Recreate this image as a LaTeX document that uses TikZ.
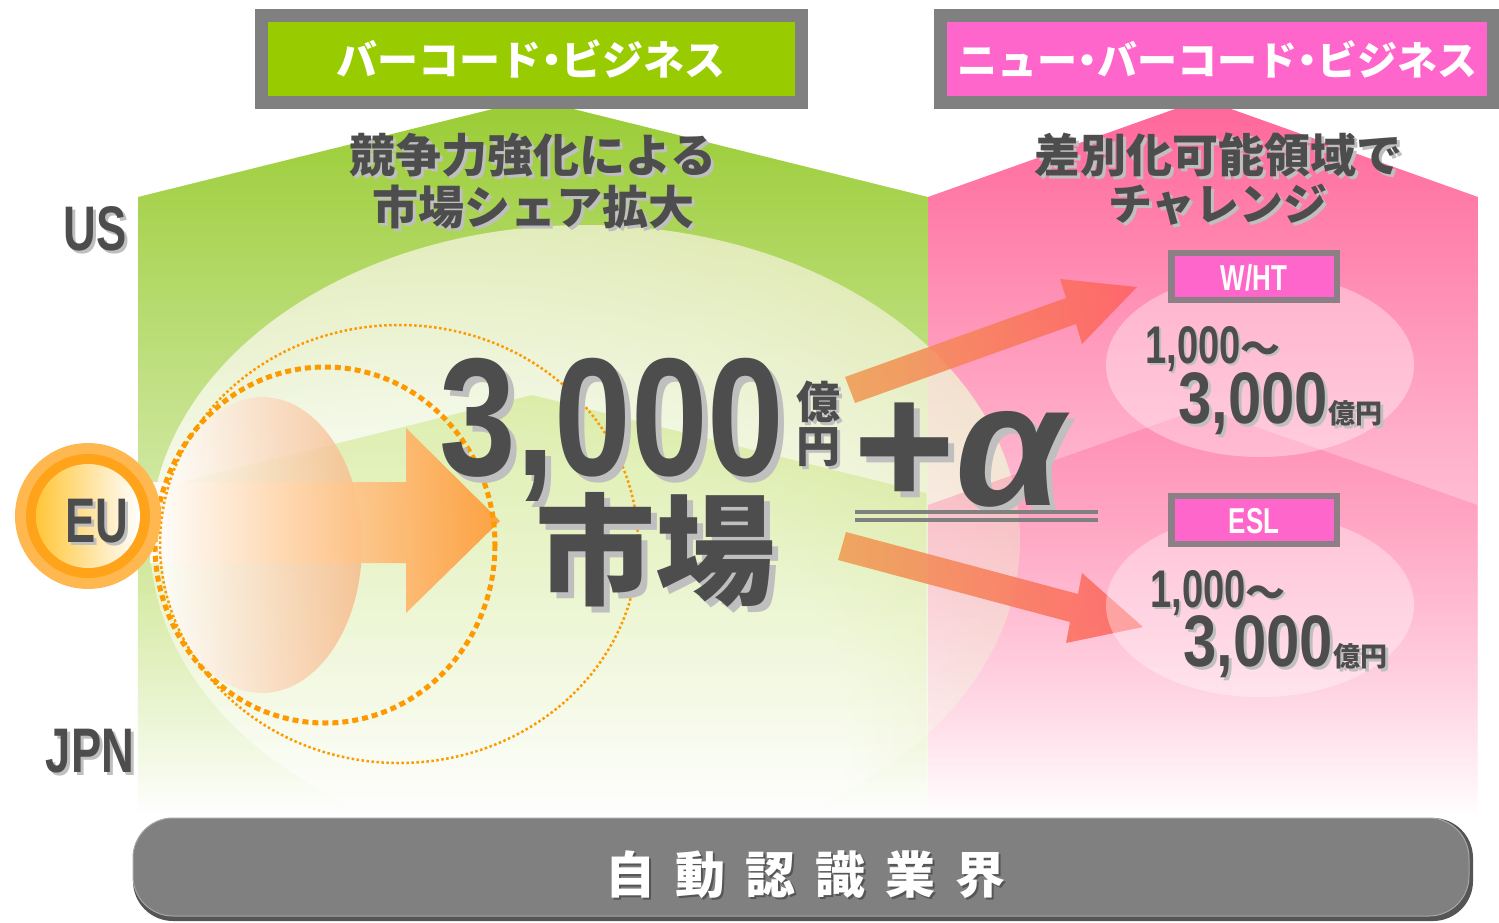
\documentclass[tikz,border=0pt]{standalone}
\usepackage{fontspec}
\usetikzlibrary{calc}
\usetikzlibrary{fadings}
\newfontfamily\jp{Noto Sans CJK JP}
\newfontfamily\cnd{Liberation Sans}[FakeStretch=0.72]
\newfontfamily\cndd{Liberation Sans}[FakeStretch=0.82]
\newfontfamily\grk{Liberation Sans}
\newcommand\latin[1]{\cnd\bfseries\fontsize{#1}{#1}\selectfont}
\newcommand\digits[1]{\cndd\bfseries\fontsize{#1}{#1}\selectfont}
\newcommand\kanji[1]{\jp\bfseries\fontsize{#1}{#1}\selectfont}
\newcommand\nakaguro{\hspace{-.25em}・\hspace{-.25em}}
\newcommand\wave{{\jp\fontsize{40}{40}\selectfont ～}}
% text with a grey drop shadow: name, options, position, text, offset
\newcommand\shadowed[5]{%
  \node[txtshadow, #2, xshift=#5pt, yshift=-#5pt] (#1s) at #3 {#4};
  \node[txt, #2] (#1) at #3 {#4};}
\definecolor{barcodegreen}{HTML}{99CC00}
\definecolor{newpink}{HTML}{FF66CC}
\definecolor{framegray}{HTML}{808080}
\definecolor{barshadow}{HTML}{555555}
\definecolor{darktxt}{HTML}{4D4D4D}
\definecolor{shadowgray}{HTML}{BFBFBF}
\definecolor{fieldgreen}{HTML}{99CC33}
\definecolor{fieldpink}{HTML}{FF6699}
\definecolor{glowyellow}{HTML}{D4D880}
\definecolor{dotorange}{HTML}{FF9900}
\definecolor{floworange}{HTML}{FF9933}
\definecolor{eggpeach}{HTML}{F7B888}
\definecolor{euring}{HTML}{FFA31A}
\definecolor{euouter}{HTML}{FFB850}
\definecolor{euinner}{HTML}{FFC638}
\definecolor{arroworange}{HTML}{F09A50}
\definecolor{arrowred}{HTML}{FF6060}
\definecolor{tagframe}{HTML}{8C7F86}
\pgfdeclareradialshading{glow}{\pgfpoint{-12bp}{-20bp}}{color(0bp)=(white); color(24bp)=(white); color(64bp)=(glowyellow); color(100bp)=(glowyellow)}

\begin{document}
\begin{tikzpicture}[x=1pt, y=-1pt,
txt/.style={text=darktxt, inner sep=0},
txtshadow/.style={text=shadowgray, inner sep=0},
headtxt/.style={text=white, inner sep=0, font=\kanji{41}},
tagtxt/.style={text=white, inner sep=0, font=\latin{36}, anchor=base},
pointer/.style={left color=arroworange, right color=arrowred, opacity=.85},
bubble/.style={fill=white, fill opacity=.35}]
\useasboundingbox (0,0) rectangle (1499,923);
\fill[white] (0,0) rectangle (1499,923);
%%%%%%%%%% FIELDS %%%%%%%%%%%
\shade[top color=fieldgreen, middle color=fieldgreen!60!white, bottom color=white]
  (138,815) -- (138,197) -- (533,99) -- (928,197) -- (928,815) -- cycle;
\shade[top color=fieldpink, middle color=fieldpink!65!white, bottom color=white]
  (928,815) -- (928,197) -- (1203,99) -- (1478,197) -- (1478,815) -- cycle;
\shade[shading=glow, opacity=.8] (585,540) ellipse (435 and 315);
\fill[fieldgreen!80!yellow, fill opacity=.3, path fading=south]
  (138,815) -- (138,493) -- (533,395) -- (928,493) -- (928,815) -- cycle;
\fill[fieldpink, fill opacity=.4, path fading=south]
  (928,815) -- (928,505) -- (1203,408) -- (1478,505) -- (1478,815) -- cycle;
%%%%%%%%%% EU FLOW %%%%%%%%%%%
\shade[left color=white, right color=eggpeach, opacity=.8] (262,545) ellipse (100 and 148);
\shade[left color=white, right color=floworange, opacity=.9]
  (150,482) -- (406,482) -- (406,428) -- (500,521) -- (406,613) -- (406,563) -- (150,563) -- cycle;
\draw[dotorange, line width=2.5, dash pattern=on 2.5pt off 2.5pt] (399,544) ellipse (239 and 219);
\draw[dotorange, line width=5, dash pattern=on 6pt off 4pt] (325,545) ellipse (170 and 178);
\fill[euouter] (88,516) circle (73);
\fill[euring] (88,516) circle (62);
\shade[left color=euinner, right color=white] (88,516) circle (52);
%%%%%%%%%% LABELS %%%%%%%%%%%
\shadowed{us}{anchor=base, font=\latin{63}}{(95,250)}{US}{3}
\shadowed{eu}{anchor=base, font=\latin{63}}{(97,542)}{EU}{3}
\shadowed{jpn}{anchor=base, font=\latin{63}}{(90,772)}{JPN}{3}
\shadowed{shareA}{font=\kanji{46}}{(533,155)}{競争力強化による}{3}
\shadowed{shareB}{font=\kanji{46}}{(533,207)}{市場シェア拡大}{3}
\shadowed{chalA}{font=\kanji{46}}{(1218,155)}{差別化可能領域で}{3}
\shadowed{chalB}{font=\kanji{44}}{(1218,205)}{チャレンジ}{3}
\shadowed{market}{anchor=base, font=\digits{168}}{(612,475)}{3,000}{6}
\shadowed{oku}{font=\kanji{44}}{(818,402)}{億}{3}
\shadowed{en}{font=\kanji{44}}{(818,447)}{円}{3}
\shadowed{ichiba}{font=\kanji{120}}{(655,550)}{市場}{6}
\shadowed{alpha}{anchor=base, font={\grk\bfseries\fontsize{175}{175}\selectfont}}{(962,505)}{+\textit{α}}{6}
\draw[framegray, line width=4] (855,512) -- (1098,512);
\draw[framegray, line width=4] (855,520) -- (1098,520);
%%%%%%%%%% NEW BUSINESS %%%%%%%%%%%
\path[pointer] (845,377) -- (1066,298) -- (1060,279) -- (1137,287) -- (1082,344) -- (1076,324) -- (855,403) -- cycle;
\path[pointer] (846,532) -- (1078,594) -- (1082,573) -- (1143,627) -- (1066,643) -- (1070,622) -- (838,560) -- cycle;
\fill[bubble] (1260,365) ellipse (154 and 92);
\fill[bubble] (1260,605) ellipse (154 and 92);
\fill[tagframe] (1168,250) rectangle (1340,303);
\fill[newpink] (1175,256) rectangle (1334,297);
\node[tagtxt] (wht) at (1254,290) {W/HT};
\fill[tagframe] (1168,493) rectangle (1340,547);
\fill[newpink] (1175,499) rectangle (1334,541);
\node[tagtxt] (esl) at (1254,533) {ESL};
\shadowed{whtlow}{anchor=base west, font=\latin{53}}{(1145,363)}{1,000\wave}{2}
\shadowed{whthigh}{anchor=base west, font=\digits{73}}{(1178,423)}{3,000{\kanji{27}億円}}{3}
\shadowed{esllow}{anchor=base west, font=\latin{53}}{(1150,607)}{1,000\wave}{2}
\shadowed{eslhigh}{anchor=base west, font=\digits{73}}{(1183,666)}{3,000{\kanji{27}億円}}{3}
%%%%%%%%%% HEADERS %%%%%%%%%%%
\fill[framegray] (255,9) rectangle (808,109);
\fill[barcodegreen] (268,22) rectangle (795,96);
\node[headtxt] (barcode) at (531,59) {バーコード\nakaguro ビジネス};
\fill[framegray] (934,9) rectangle (1499,109);
\fill[newpink] (947,22) rectangle (1487,96);
\node[headtxt, font=\kanji{40}] (newbarcode) at (1217,59) {ニュー\nakaguro バーコード\nakaguro ビジネス};
%%%%%%%%%% INDUSTRY BAR %%%%%%%%%%%
\fill[barshadow, rounded corners=40] (133,818) rectangle (1473,921);
\fill[framegray, draw=framegray!70!white, line width=1, rounded corners=40] (133,818) rectangle (1469,916);
\node[text=barshadow, inner sep=0, font=\kanji{50}, xshift=2pt, yshift=-2pt] (industrys) at (805,875)
  {自\hspace{20pt}動\hspace{20pt}認\hspace{20pt}識\hspace{20pt}業\hspace{20pt}界};
\node[text=white, inner sep=0, font=\kanji{50}] (industry) at (805,875)
  {自\hspace{20pt}動\hspace{20pt}認\hspace{20pt}識\hspace{20pt}業\hspace{20pt}界};
\end{tikzpicture}
\end{document}
